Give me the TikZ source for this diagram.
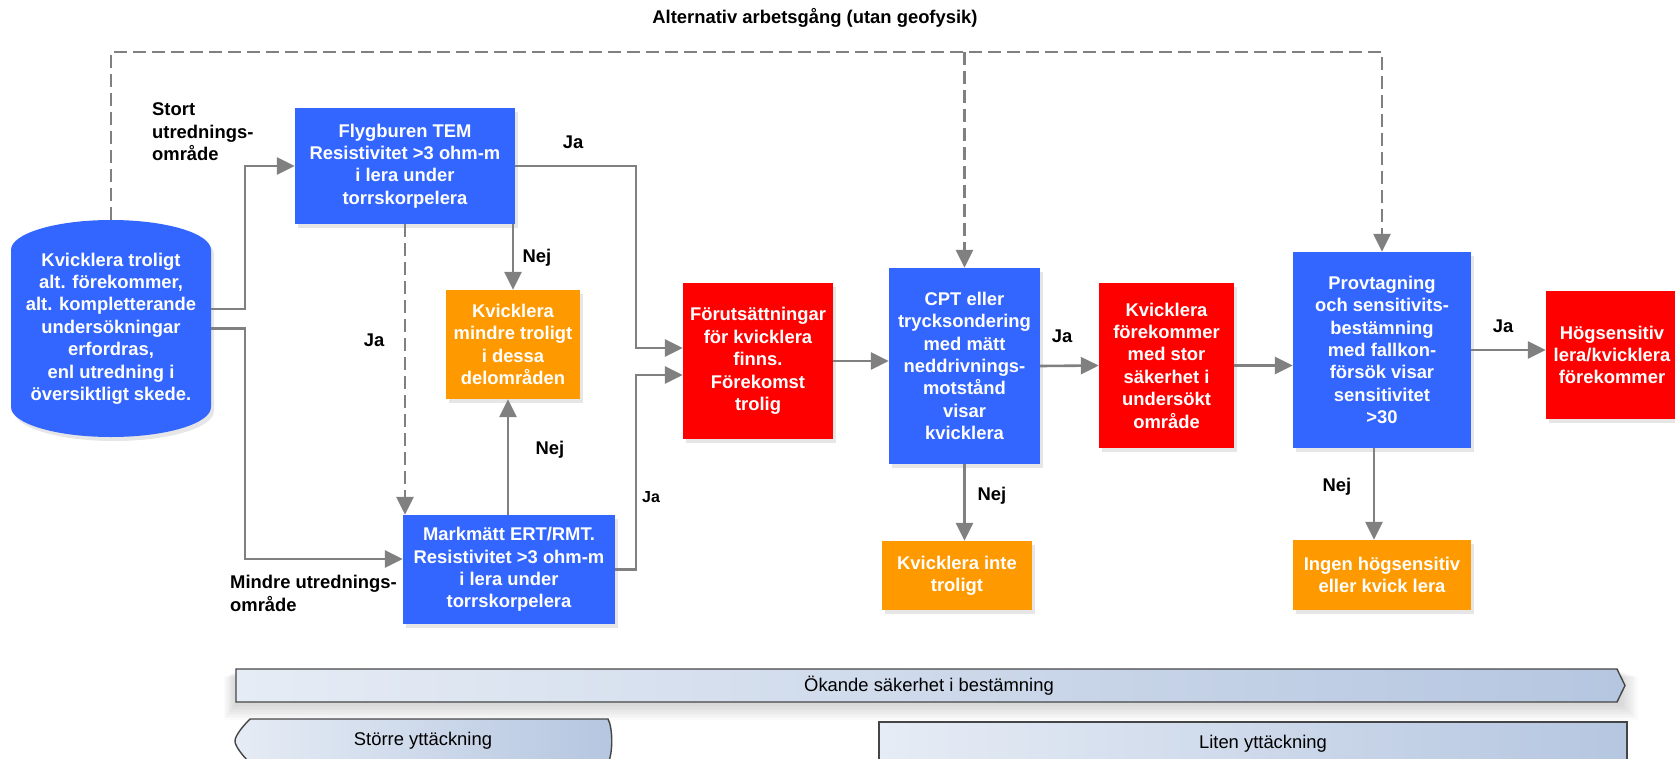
\documentclass[tikz,border=0pt]{standalone}
\usepackage{fontspec}
\setmainfont{Liberation Sans}
\usetikzlibrary{arrows.meta,shadows}
\definecolor{bblue}{HTML}{3366FF}
\definecolor{bred}{HTML}{FF0000}
\definecolor{borange}{HTML}{FF9900}
\definecolor{agray}{HTML}{808080}
\definecolor{barL}{HTML}{E6ECF5}
\definecolor{barR}{HTML}{B5C6E0}
\definecolor{barB}{HTML}{454545}
\begin{document}
\begin{tikzpicture}[x=1pt,y=1pt,
  font=\fontsize{18.4}{22.4}\selectfont\bfseries,
  box/.style={rectangle, inner sep=0pt, align=center, text=white,
    drop shadow={opacity=0.2, shadow xshift=3pt, shadow yshift=-4pt}},
  bluebox/.style={box, fill=bblue},
  redbox/.style={box, fill=bred},
  orbox/.style={box, fill=borange},
  arr/.style={draw=agray, line width=2.6pt, -{Triangle[length=18pt,width=17pt]}},
  darr/.style={arr, dash pattern=on 13pt off 6pt},
  lbl/.style={text=black, inner sep=0pt, align=left},
  bartext/.style={text=black, inner sep=0pt, font=\fontsize{18.4}{22}\selectfont\mdseries},
  barline/.style={draw=barB, line width=1.4pt, line join=miter}
]
\useasboundingbox (0,0) rectangle (1675,-758);
\clip (0,0) rectangle (1675,-758);

% title
\node (title) at (815,-18) {Alternativ arbetsgång (utan geofysik)};

% cylinder
\fill[bblue, drop shadow={opacity=0.2, shadow xshift=3pt, shadow yshift=-4pt}]
  (11,-250) arc[start angle=180,end angle=0,x radius=100,y radius=30]
  -- (211,-407) arc[start angle=0,end angle=-180,x radius=100,y radius=30] -- cycle;
\node[minimum width=200pt, minimum height=217pt, inner sep=0pt, align=center, text=white] (cyl) at (111,-328.5)
  {Kvicklera troligt\\alt. förekommer,\\alt. kompletterande\\undersökningar\\erfordras,\\enl utredning i\\översiktligt skede.};

% boxes
\node[bluebox, minimum width=220pt, minimum height=116pt] (tem) at (405,-166)
  {Flygburen TEM\\Resistivitet >3 ohm-m\\i lera under\\torrskorpelera};
\node[orbox, minimum width=134pt, minimum height=109pt] (or1) at (513,-344.5)
  {Kvicklera\\mindre troligt\\i dessa\\delområden};
\node[bluebox, minimum width=212pt, minimum height=109pt] (mark) at (509,-569.5)
  {Markmätt ERT/RMT.\\Resistivitet >3 ohm-m\\i lera under\\torrskorpelera};
\node[redbox, minimum width=150pt, minimum height=156pt] (fut) at (758,-361)
  {Förutsättningar\\för kvicklera\\finns.\\Förekomst\\trolig};
\node[bluebox, minimum width=151pt, minimum height=196pt] (cpt) at (964.5,-366)
  {CPT eller\\trycksondering\\med mätt\\neddrivnings-\\motstånd\\visar\\kvicklera};
\node[orbox, minimum width=150pt, minimum height=69pt] (or2) at (957,-575.5)
  {Kvicklera inte\\troligt};
\node[redbox, minimum width=135pt, minimum height=165pt] (kf) at (1166.5,-365.5)
  {Kvicklera\\förekommer\\med stor\\säkerhet i\\undersökt\\område};
\node[bluebox, minimum width=178pt, minimum height=196pt] (prov) at (1382,-350)
  {Provtagning\\och sensitivits-\\bestämning\\med fallkon-\\försök visar\\sensitivitet\\>30};
\node[orbox, minimum width=178pt, minimum height=70pt] (or3) at (1382,-575)
  {Ingen högsensitiv\\eller kvick lera};
\node[redbox, minimum width=132pt, minimum height=128pt] (hog) at (1612,-355)
  {Högsensitiv\\lera/kvicklera\\förekommer};

% labels
\node[lbl, anchor=west] (lstort) at (152,-132) {Stort\\utrednings-\\område};
\node[lbl, anchor=west] (lmindre) at (230,-593.5) {Mindre utrednings-\\område};
\node[lbl] (ja1) at (573,-142) {Ja};
\node[lbl] (nej1) at (537,-258) {Nej};
\node[lbl] (ja2) at (374,-340) {Ja};
\node[lbl] (nej2) at (550,-450) {Nej};
\node[lbl, font=\fontsize{16}{19}\selectfont\bfseries] (ja3) at (651,-497) {Ja};
\node[lbl] (ja4) at (1062,-336) {Ja};
\node[lbl] (nej3) at (992,-496) {Nej};
\node[lbl] (ja5) at (1503,-326) {Ja};
\node[lbl] (nej4) at (1337,-487) {Nej};

% dashed alternative route
\coordinate (alt) at (0,-52);
\draw[darr] (cyl.north) -- (cyl.north |- alt) -| (prov.north);
\draw[darr] (cpt.north |- alt) -- (cpt.north);

% connectors
\draw[arr] ([yshift=19.5pt]cyl.east) -| ([xshift=-50pt]tem.west) -- (tem.west);
\draw[arr] (cyl.east) -| ([xshift=-158pt,yshift=10.5pt]mark.west) -- ([yshift=10.5pt]mark.west);
\draw[arr] (tem.east) -| ([xshift=-47pt,yshift=13pt]fut.west) -- ([yshift=13pt]fut.west);
\draw[arr] (mark.east) -| ([xshift=-47pt,yshift=-14pt]fut.west) -- ([yshift=-14pt]fut.west);
\draw[arr] (tem.south -| or1.north) -- (or1.north);
\draw[arr] ([xshift=-1pt]mark.north) -- ([xshift=-1pt]mark.north |- or1.south);
\draw[darr] (tem.south) -- (tem.south |- mark.north);
\draw[arr] (fut.east) -- (fut.east -| cpt.west);
\draw[arr] (cpt.east) -- (kf.west);
\draw[arr] (cpt.south) -- (cpt.south |- or2.north);
\draw[arr] (kf.east) -- (kf.east -| prov.west);
\draw[arr] (prov.east) -- (prov.east -| hog.west);
\draw[arr] ([xshift=-8pt]prov.south) -- ([xshift=-8pt]prov.south |- or3.north);

% bottom bars
\foreach \i in {1,...,10} {
  \fill[black, opacity=0.014] (236-\i*1.2,-671-\i*0.6) rectangle (1620+\i*1.8,-704-\i*1.6);
}
\shade[left color=barL, right color=barR]
  (236,-669) -- (1617,-669) -- (1625,-685.5) -- (1617,-702) -- (236,-702) -- cycle;
\draw[barline] (236,-669) -- (1617,-669) -- (1625,-685.5) -- (1617,-702) -- (236,-702) -- cycle;
\node[bartext] (okande) at (929,-685.5) {Ökande säkerhet i bestämning};

\shade[left color=barL, right color=barR]
  (250,-719) -- (608,-719) .. controls (613,-728) and (613,-754) .. (608,-763)
  -- (250,-763) .. controls (242,-755) and (235,-746) .. (235,-741)
  .. controls (235,-736) and (242,-727) .. (250,-719) -- cycle;
\draw[barline]
  (250,-719) -- (608,-719) .. controls (613,-728) and (613,-754) .. (608,-763)
  -- (250,-763) .. controls (242,-755) and (235,-746) .. (235,-741)
  .. controls (235,-736) and (242,-727) .. (250,-719) -- cycle;
\node[bartext] (storre) at (423,-741) {Större yttäckning};

\shade[left color=barL, right color=barR] (879,-722) rectangle (1627,-770);
\draw[barline] (879,-722) rectangle (1627,-770);
\node[bartext] (liten) at (1263,-744) {Liten yttäckning};
\end{tikzpicture}
\end{document}
